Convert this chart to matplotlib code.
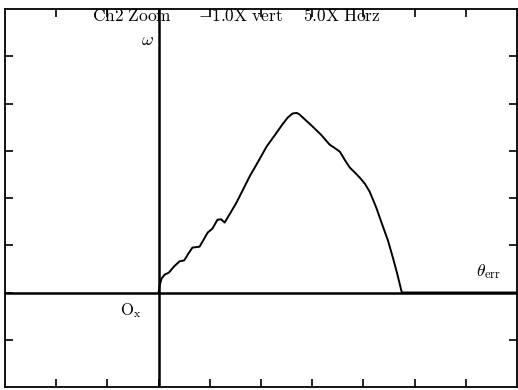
import matplotlib
matplotlib.use("Agg")
from matplotlib import pyplot as plt

plt.rcParams["mathtext.fontset"] = "cm"
plt.rcParams["font.family"] = "serif"

# trace, in divisions
theta_err = [0.0, 0.02, 0.06, 0.12, 0.2, 0.3, 0.41, 0.5, 0.58, 0.66, 0.73, 0.8,
             0.88, 0.96, 1.05, 1.15, 1.22, 1.29, 1.4, 1.52, 1.65, 1.78, 1.95,
             2.11, 2.27, 2.42, 2.52, 2.62, 2.7, 2.75, 2.88, 3.01, 3.18, 3.34,
             3.45, 3.54, 3.64, 3.73, 3.85, 3.93, 4.03, 4.12, 4.25, 4.38, 4.48,
             4.57, 4.66, 4.75, 7.0]
omega = [0.0, 0.15, 0.3, 0.38, 0.42, 0.55, 0.66, 0.68, 0.82, 0.95, 0.96, 0.97,
         1.12, 1.27, 1.35, 1.54, 1.55, 1.48, 1.68, 1.90, 2.18, 2.46, 2.78,
         3.09, 3.33, 3.56, 3.7, 3.79, 3.8, 3.77, 3.64, 3.51, 3.33, 3.13,
         3.05, 2.98, 2.8, 2.65, 2.52, 2.43, 2.3, 2.14, 1.8, 1.40, 1.1,
         0.76, 0.4, 0.0, 0.0]
header = [r"$\mathrm{Ch2\ Zoom}$", r"$\mathrm{{-}1.0X\ vert}$", r"$\mathrm{5.0X\ Horz}$"]

fig = plt.figure(figsize=(5.18, 3.9), dpi=100)
ax = fig.add_axes([5 / 518, 3 / 390, 512 / 518, 378 / 390])
ax.set_xlim(-3, 7)
ax.set_ylim(-2, 6)

ax.axhline(0, color="black", lw=1.8)
ax.axvline(0, color="black", lw=1.8)
ax.plot(theta_err, omega, color="black", lw=1.4)

ax.set_xticks(range(-2, 7))
ax.set_yticks(range(-1, 6))
ax.tick_params(direction="in", length=6, width=1.2, top=True, right=True,
               labelbottom=False, labelleft=False)
for s in ax.spines.values():
    s.set_linewidth(1.3)

for x, t in zip([-0.51, 1.6, 3.57], header):
    ax.text(x, 5.85, t, ha="center", va="center", fontsize=12.5)
ax.text(-0.22, 5.35, r"$\omega$", ha="center", va="center", fontsize=13)
ax.text(-0.55, -0.38, r"$\mathrm{O_x}$", ha="center", va="center", fontsize=12)
ax.text(6.45, 0.45, r"$\theta_{\mathrm{err}}$", ha="center", va="center", fontsize=12.5)

plt.savefig("out.png", dpi=100)
